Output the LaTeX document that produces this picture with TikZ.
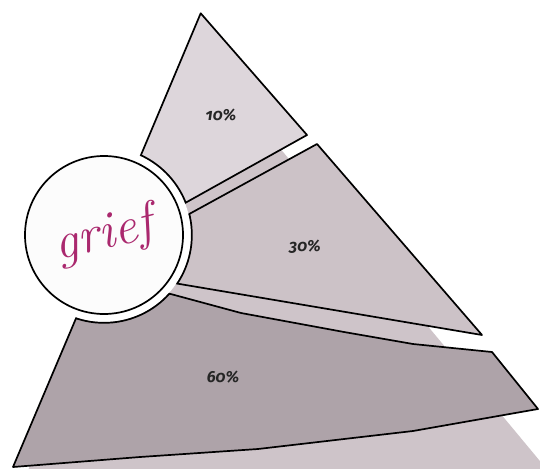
\documentclass[tikz,border=0pt]{standalone}
\usepackage{fontspec}
\newfontfamily\pctfont[Numbers=OldStyle]{Fira Sans}
\definecolor{tenc}{RGB}{221,214,219}
\definecolor{thirtyc}{RGB}{204,194,199}
\definecolor{sixtyc}{RGB}{174,163,169}
\definecolor{bgc}{RGB}{206,196,201}
\definecolor{griefc}{RGB}{170,40,110}
\definecolor{discc}{RGB}{252,252,252}
\begin{document}
\begin{tikzpicture}[x=1pt,y=-1pt,
  edge/.style={draw=black,line width=1.7pt,line join=round},
  ringline/.style={draw=black,line width=1.7pt},
  pct/.style={font=\pctfont\bfseries\itshape\fontsize{16}{16}\selectfont, text=black!85}]
\useasboundingbox (0,0) rectangle (540,468);
\clip (0,0) rectangle (540,468);
\coordinate (c) at (104,235);
% ten
\coordinate (t1) at (200.7,13.3);
\coordinate (t2) at (307,135);
\coordinate (t3) at (160,217);
\coordinate (t4) at (130,181);
% thirty
\coordinate (h1) at (317,144);
\coordinate (h2) at (482,335);
\coordinate (h3) at (150,279);
\coordinate (h4) at (160,230);
% sixty
\coordinate (s1) at (13,467);
\coordinate (s2) at (77,316);
\coordinate (s3) at (90,285);
\coordinate (s4) at (130,282);
\coordinate (s5) at (167,293);
\coordinate (s6) at (241,313);
\coordinate (s7) at (344,332);
\coordinate (s8) at (413,344);
\coordinate (s9) at (492,352);
\coordinate (s10) at (538,409);
\coordinate (s11) at (413,431);
\coordinate (s12) at (258,449);
\coordinate (s13) at (140,457);
% background
\fill[bgc] (200,52) -- (564,490) -- (20,490) -- cycle;
% shapes
\path[edge,fill=tenc] (t1) -- (t2) -- (t3) -- (c) -- (t4) -- cycle;
\path[edge,fill=thirtyc] (h1) -- (h2) -- (h3) -- (c) -- (h4) -- cycle;
\path[edge,fill=sixtyc] (s1) -- (s2) -- (s3) -- (s4) -- (s5) -- (s6) -- (s7) -- (s8) -- (s9) -- (s10) -- (s11) -- (s12) -- (s13) -- cycle;
% white ring
\fill[white] (c) circle[radius=87];
\begin{scope}
  \clip (t1) -- (t2) -- (t3) -- (c) -- (t4) -- cycle;
  \draw[ringline] (c) circle[radius=87.85];
\end{scope}
\begin{scope}
  \clip (h1) -- (h2) -- (h3) -- (c) -- (h4) -- cycle;
  \draw[ringline] (c) circle[radius=87.85];
\end{scope}
\begin{scope}
  \clip (s1) -- (s2) -- (s3) -- (s4) -- (s5) -- (s6) -- (s7) -- (s8) -- (s9) -- (s10) -- (s11) -- (s12) -- (s13) -- cycle;
  \draw[ringline] (c) circle[radius=87.85];
\end{scope}
% disc
\draw[fill=discc,line width=1.7pt] (c) circle[radius=79];
% labels
\node[pct] (ten) at (221,115) {10\%};
\node[pct] (thirty) at (305,247) {30\%};
\node[pct] (sixty) at (223,377) {60\%};
\node[font=\itshape\fontsize{52}{52}\selectfont, text=griefc, rotate=14] (grief) at (104,236) {grief};
\end{tikzpicture}
\end{document}
